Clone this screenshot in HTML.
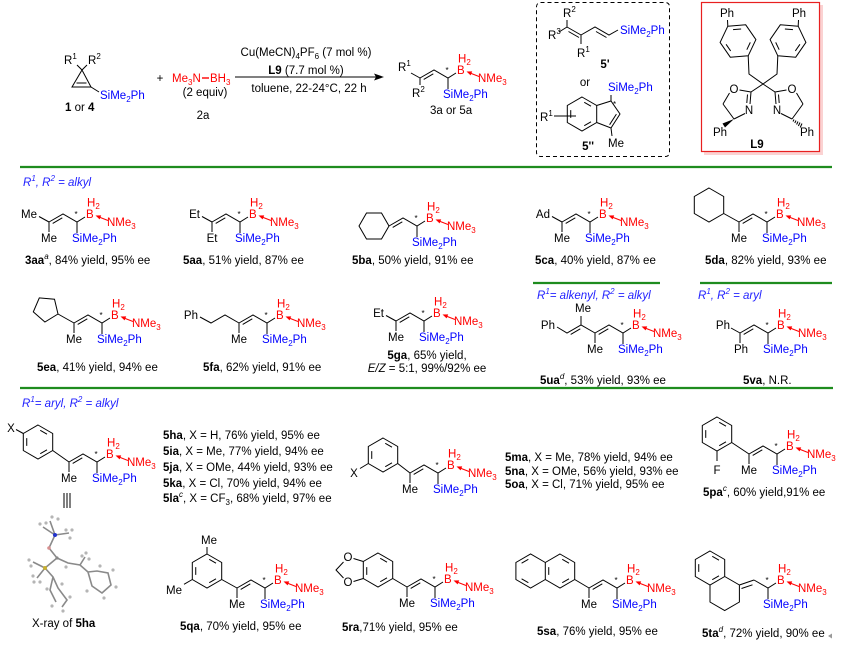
<!DOCTYPE html>
<html><head><meta charset="utf-8"><style>
html,body{margin:0;padding:0;background:#fff}
svg{display:block}
text{font-family:"Liberation Sans",Arial,sans-serif;font-size:11.5px;fill:#000}
.k{stroke:#000;stroke-width:1;fill:none}
.r{fill:#f00}
.bl{fill:#00f}
.s{font-size:8px}
.b{font-weight:bold}
.hd{fill:#2222ff;font-style:italic}
.g{stroke:#1e8c1e;stroke-width:2.2}
.x{stroke:#8a8a8a;stroke-width:1.6;fill:none}
</style></head><body>
<svg width="842" height="650" viewBox="0 0 842 650" xmlns="http://www.w3.org/2000/svg">
<rect width="842" height="650" fill="#fff"/>

<!-- ============ TOP SCHEME ============ -->
<!-- cyclopropene -->
<path class="k" d="M82,70L72,87L91,87Z M76.5,83L86.5,83 M82,70L77,65 M82,70L87,65 M91,87L99,92"/>
<text x="64" y="64">R<tspan font-size="8" dy="-5">1</tspan></text>
<text x="88" y="64">R<tspan font-size="8" dy="-5">2</tspan></text>
<text class="bl" x="100" y="99">SiMe<tspan font-size="8" dy="3">2</tspan><tspan dy="-3">Ph</tspan></text>
<text x="65" y="111"><tspan class="b">1</tspan> or <tspan class="b">4</tspan></text>
<text x="160" y="82" text-anchor="middle" font-size="10">+</text>
<text class="r" x="172" y="82">Me<tspan font-size="8" dy="3">3</tspan><tspan dy="-3">N</tspan></text>
<path d="M202,78L209,78" stroke="#f00" stroke-width="1.4"/>
<text class="r" x="210" y="82">BH<tspan font-size="8" dy="3">3</tspan></text>
<text x="205" y="96" text-anchor="middle">(2 equiv)</text>
<text x="203" y="119" text-anchor="middle">2a</text>
<!-- arrow -->
<path class="k" d="M235,77L378,77"/>
<path d="M384,77L374,73.5L376,77L374,80.5Z" fill="#000"/>
<text x="306" y="56" text-anchor="middle">Cu(MeCN)<tspan font-size="8" dy="3">4</tspan><tspan dy="-3">PF</tspan><tspan font-size="8" dy="3">6</tspan><tspan dy="-3"> (7 mol %)</tspan></text>
<text x="306" y="74" text-anchor="middle"><tspan class="b">L9</tspan> (7.7 mol %)</text>
<text x="309" y="92" text-anchor="middle">toluene, 22-24°C, 22 h</text>
<!-- product -->
<path class="k" d="M420,78L411,73 M420,78L420,85"/>
<text x="398" y="71">R<tspan font-size="8" dy="-5">1</tspan></text>
<text x="412" y="97">R<tspan font-size="8" dy="-5">2</tspan></text>
<g transform="translate(448,78)">
<path class="k" d="M-28,0L-14,-8L0,0L8,-5M0,0V11M-24.3,1.4L-14.7,-4.2"/>
<text class="s" x="-2.5" y="-5">*</text>
<text class="r" x="9" y="-4">B</text>
<text class="r" x="10" y="-15.5">H<tspan font-size="8" dy="2.5">2</tspan></text>
<path d="M31,-1.5L22,-5" stroke="#f00" stroke-width="1"/><path d="M18.5,-6.5L24.2,-6.6L22.6,-2.6Z" fill="#f00"/>
<text class="r" x="30" y="4">NMe<tspan font-size="8" dy="3">3</tspan></text>
<text class="bl" x="-5" y="20">SiMe<tspan font-size="8" dy="3">2</tspan><tspan dy="-3">Ph</tspan></text>
</g>
<text x="430" y="114">3a or 5a</text>

<!-- dashed box -->
<rect x="536.5" y="2.5" width="133" height="154" rx="4" fill="none" stroke="#000" stroke-width="1" stroke-dasharray="4,3"/>
<!-- 5' -->
<path class="k" d="M567,27L567,20 M567,27L559,32 M567,27L581,35 M568.5,31.5L579,37.5 M581,35L581,44 M581,35L595,27L609,35L618,30 M596,31.5L606.5,37.5"/>
<text x="563" y="17">R<tspan font-size="8" dy="-5">2</tspan></text>
<text x="548" y="39">R<tspan font-size="8" dy="-5">3</tspan></text>
<text x="577" y="57">R<tspan font-size="8" dy="-5">1</tspan></text>
<text class="bl" x="620" y="34">SiMe<tspan font-size="8" dy="3">2</tspan><tspan dy="-3">Ph</tspan></text>
<text x="605" y="68" text-anchor="middle" class="b">5'</text>
<text x="585" y="86" text-anchor="middle">or</text>
<!-- 5'' indene -->
<text class="bl" x="608" y="91">SiMe<tspan font-size="8" dy="3">2</tspan><tspan dy="-3">Ph</tspan></text>
<path class="k" d="M582,97L596.7,105.5L596.7,122.5L582,131L567.3,122.5L567.3,105.5Z M584.25,102.3L591,106.2 M591,121.8L584.25,125.7 M570.74,117.9L570.74,110.1 M596.7,105.5L611,101L620,114L611,128L596.7,122.5 M616.4,114.1L609.6,124.7 M611,101L611,95 M611,128L612,136 M554,116L576,116"/>
<text class="s" x="613" y="107">*</text>
<text x="540" y="121">R<tspan font-size="8" dy="-5">1</tspan></text>
<text x="616" y="147" text-anchor="middle">Me</text>
<text x="588" y="150" text-anchor="middle" class="b">5''</text>

<!-- L9 box -->
<rect x="704" y="5" width="119" height="150" fill="#fbd2d2"/>
<rect x="701.5" y="2.5" width="118" height="149" fill="#fff" stroke="#e82020" stroke-width="1.2"/>
<path class="k" d="M727.8,26.2L745.7,24.8L755.9,39.6L748.2,55.8L730.3,57.2L720.1,42.4Z M733.05,29.66L741.12,29.03 M750.3,42.38L746.81,49.69 M730.66,50.96L726.07,44.28 M727.8,26.2L727.5,20"/>
<path class="k" d="M798.2,26.2L780.3,24.8L770.1,39.6L777.8,55.8L795.7,57.2L805.9,42.4Z M792.95,29.66L784.88,29.03 M775.7,42.38L779.19,49.69 M795.34,50.96L799.93,44.28 M798.2,26.2L798.5,20"/>
<text x="727" y="17" text-anchor="middle">Ph</text>
<text x="799" y="17" text-anchor="middle">Ph</text>
<path class="k" d="M748.2,55.8L749,74L763,84L777,74L777.8,55.8 M763,84L751,92 M763,84L775,92"/>
<!-- left oxazoline -->
<path class="k" d="M751,92L739.5,90 M751,92L750,104 M747.5,94.5L746.8,103 M745,113.5L734,119 M734,119L723,104 M723,104L729.5,93"/>
<path d="M734,119L722.5,123.5L725,127.5Z" fill="#000"/>
<text x="734" y="93" text-anchor="middle">O</text>
<text x="749" y="114" text-anchor="middle">N</text>
<text x="720" y="136" text-anchor="middle">Ph</text>
<!-- right oxazoline -->
<path class="k" d="M775,92L786.5,90 M775,92L776,104 M778.5,94.5L779.2,103 M781,113.5L792,119 M792,119L803,104 M803,104L796.5,93"/>
<path class="k" d="M794,119.5L793,121.5 M796,120.5L794.8,123 M798,121.5L796.6,124.5 M800,122.5L798.4,126 M802,123.5L800.2,127.5"/>
<text x="792" y="93" text-anchor="middle">O</text>
<text x="777" y="114" text-anchor="middle">N</text>
<text x="807" y="136" text-anchor="middle">Ph</text>
<text x="757" y="148" text-anchor="middle" class="b">L9</text>

<!-- green lines -->
<path class="g" d="M20,167L832,167"/>
<path class="g" d="M533,283L660,283"/>
<path class="g" d="M700,283L832,283"/>
<path class="g" d="M20,388L833,388"/>

<!-- ============ ROW 1 ============ -->
<text class="hd" x="23" y="186">R<tspan font-size="8" dy="-5">1</tspan><tspan dy="5">, R</tspan><tspan font-size="8" dy="-5">2</tspan><tspan dy="5"> = alkyl</tspan></text>

<!-- 3aa -->
<path class="k" d="M49,222L39,216.5 M49,222L49,232"/>
<text x="37" y="218" text-anchor="end">Me</text>
<text x="49" y="242" text-anchor="middle">Me</text>
<g transform="translate(77,222)">
<path class="k" d="M-28,0L-14,-8L0,0L8,-5M0,0V11M-24.3,1.4L-14.7,-4.2"/>
<text class="s" x="-2.5" y="-5">*</text>
<text class="r" x="9" y="-4">B</text>
<text class="r" x="10" y="-15.5">H<tspan font-size="8" dy="2.5">2</tspan></text>
<path d="M31,-1.5L22,-5" stroke="#f00" stroke-width="1"/><path d="M18.5,-6.5L24.2,-6.6L22.6,-2.6Z" fill="#f00"/>
<text class="r" x="30" y="4">NMe<tspan font-size="8" dy="3">3</tspan></text>
<text class="bl" x="-5" y="20">SiMe<tspan font-size="8" dy="3">2</tspan><tspan dy="-3">Ph</tspan></text>
</g>
<text x="25" y="264"><tspan class="b">3aa</tspan><tspan font-size="8" dy="-5" font-style="italic">a</tspan><tspan dy="5">, 84% yield, 95% ee</tspan></text>

<!-- 5aa -->
<path class="k" d="M212,222L202,216.5 M212,222L212,232"/>
<text x="200" y="218" text-anchor="end">Et</text>
<text x="212" y="242" text-anchor="middle">Et</text>
<g transform="translate(240,222)">
<path class="k" d="M-28,0L-14,-8L0,0L8,-5M0,0V11M-24.3,1.4L-14.7,-4.2"/>
<text class="s" x="-2.5" y="-5">*</text>
<text class="r" x="9" y="-4">B</text>
<text class="r" x="10" y="-15.5">H<tspan font-size="8" dy="2.5">2</tspan></text>
<path d="M31,-1.5L22,-5" stroke="#f00" stroke-width="1"/><path d="M18.5,-6.5L24.2,-6.6L22.6,-2.6Z" fill="#f00"/>
<text class="r" x="30" y="4">NMe<tspan font-size="8" dy="3">3</tspan></text>
<text class="bl" x="-5" y="20">SiMe<tspan font-size="8" dy="3">2</tspan><tspan dy="-3">Ph</tspan></text>
</g>
<text x="183" y="264"><tspan class="b">5aa</tspan>, 51% yield, 87% ee</text>

<!-- 5ba -->
<path class="k" d="M389,226L381.5,239L366.5,239L359,226L366.5,213L381.5,213Z"/>
<g transform="translate(417,226)">
<path class="k" d="M-28,0L-14,-8L0,0L8,-5M0,0V11M-24.3,1.4L-14.7,-4.2"/>
<text class="s" x="-2.5" y="-5">*</text>
<text class="r" x="9" y="-4">B</text>
<text class="r" x="10" y="-15.5">H<tspan font-size="8" dy="2.5">2</tspan></text>
<path d="M31,-1.5L22,-5" stroke="#f00" stroke-width="1"/><path d="M18.5,-6.5L24.2,-6.6L22.6,-2.6Z" fill="#f00"/>
<text class="r" x="30" y="4">NMe<tspan font-size="8" dy="3">3</tspan></text>
<text class="bl" x="-5" y="20">SiMe<tspan font-size="8" dy="3">2</tspan><tspan dy="-3">Ph</tspan></text>
</g>
<text x="352" y="264"><tspan class="b">5ba</tspan>, 50% yield, 91% ee</text>

<!-- 5ca -->
<path class="k" d="M562,222L552,216.5 M562,222L562,232"/>
<text x="550" y="218" text-anchor="end">Ad</text>
<text x="562" y="242" text-anchor="middle">Me</text>
<g transform="translate(590,222)">
<path class="k" d="M-28,0L-14,-8L0,0L8,-5M0,0V11M-24.3,1.4L-14.7,-4.2"/>
<text class="s" x="-2.5" y="-5">*</text>
<text class="r" x="9" y="-4">B</text>
<text class="r" x="10" y="-15.5">H<tspan font-size="8" dy="2.5">2</tspan></text>
<path d="M31,-1.5L22,-5" stroke="#f00" stroke-width="1"/><path d="M18.5,-6.5L24.2,-6.6L22.6,-2.6Z" fill="#f00"/>
<text class="r" x="30" y="4">NMe<tspan font-size="8" dy="3">3</tspan></text>
<text class="bl" x="-5" y="20">SiMe<tspan font-size="8" dy="3">2</tspan><tspan dy="-3">Ph</tspan></text>
</g>
<text x="535" y="264"><tspan class="b">5ca</tspan>, 40% yield, 87% ee</text>

<!-- 5da -->
<path class="k" d="M709,188L723.7,196.5L723.7,213.5L709,222L694.3,213.5L694.3,196.5Z M723.7,213.5L739,222 M739,222L739,232"/>
<text x="739" y="242" text-anchor="middle">Me</text>
<g transform="translate(767,222)">
<path class="k" d="M-28,0L-14,-8L0,0L8,-5M0,0V11M-24.3,1.4L-14.7,-4.2"/>
<text class="s" x="-2.5" y="-5">*</text>
<text class="r" x="9" y="-4">B</text>
<text class="r" x="10" y="-15.5">H<tspan font-size="8" dy="2.5">2</tspan></text>
<path d="M31,-1.5L22,-5" stroke="#f00" stroke-width="1"/><path d="M18.5,-6.5L24.2,-6.6L22.6,-2.6Z" fill="#f00"/>
<text class="r" x="30" y="4">NMe<tspan font-size="8" dy="3">3</tspan></text>
<text class="bl" x="-5" y="20">SiMe<tspan font-size="8" dy="3">2</tspan><tspan dy="-3">Ph</tspan></text>
</g>
<text x="705" y="264"><tspan class="b">5da</tspan>, 82% yield, 93% ee</text>

<!-- ============ ROW 2 ============ -->
<!-- 5ea -->
<path class="k" d="M58,314L44.9,322L33.3,311.9L39.3,297.9L54.5,299.2Z M58,314L74,323 M74,323L74,333"/>
<text x="74" y="343" text-anchor="middle">Me</text>
<g transform="translate(102,323)">
<path class="k" d="M-28,0L-14,-8L0,0L8,-5M0,0V11M-24.3,1.4L-14.7,-4.2"/>
<text class="s" x="-2.5" y="-5">*</text>
<text class="r" x="9" y="-4">B</text>
<text class="r" x="10" y="-15.5">H<tspan font-size="8" dy="2.5">2</tspan></text>
<path d="M31,-1.5L22,-5" stroke="#f00" stroke-width="1"/><path d="M18.5,-6.5L24.2,-6.6L22.6,-2.6Z" fill="#f00"/>
<text class="r" x="30" y="4">NMe<tspan font-size="8" dy="3">3</tspan></text>
<text class="bl" x="-5" y="20">SiMe<tspan font-size="8" dy="3">2</tspan><tspan dy="-3">Ph</tspan></text>
</g>
<text x="37" y="371"><tspan class="b">5ea</tspan>, 41% yield, 94% ee</text>

<!-- 5fa -->
<path class="k" d="M239,323L225,315L211,323L200,317 M239,323L239,333"/>
<text x="198" y="319" text-anchor="end">Ph</text>
<text x="239" y="343" text-anchor="middle">Me</text>
<g transform="translate(267,323)">
<path class="k" d="M-28,0L-14,-8L0,0L8,-5M0,0V11M-24.3,1.4L-14.7,-4.2"/>
<text class="s" x="-2.5" y="-5">*</text>
<text class="r" x="9" y="-4">B</text>
<text class="r" x="10" y="-15.5">H<tspan font-size="8" dy="2.5">2</tspan></text>
<path d="M31,-1.5L22,-5" stroke="#f00" stroke-width="1"/><path d="M18.5,-6.5L24.2,-6.6L22.6,-2.6Z" fill="#f00"/>
<text class="r" x="30" y="4">NMe<tspan font-size="8" dy="3">3</tspan></text>
<text class="bl" x="-5" y="20">SiMe<tspan font-size="8" dy="3">2</tspan><tspan dy="-3">Ph</tspan></text>
</g>
<text x="203" y="371"><tspan class="b">5fa</tspan>, 62% yield, 91% ee</text>

<!-- 5ga -->
<path class="k" d="M396,321L386,315.5 M396,321L396,331"/>
<text x="384" y="317" text-anchor="end">Et</text>
<text x="396" y="341" text-anchor="middle">Me</text>
<g transform="translate(424,321)">
<path class="k" d="M-28,0L-14,-8L0,0L8,-5M0,0V11M-24.3,1.4L-14.7,-4.2"/>
<text class="s" x="-2.5" y="-5">*</text>
<text class="r" x="9" y="-4">B</text>
<text class="r" x="10" y="-15.5">H<tspan font-size="8" dy="2.5">2</tspan></text>
<path d="M31,-1.5L22,-5" stroke="#f00" stroke-width="1"/><path d="M18.5,-6.5L24.2,-6.6L22.6,-2.6Z" fill="#f00"/>
<text class="r" x="30" y="4">NMe<tspan font-size="8" dy="3">3</tspan></text>
<text class="bl" x="-5" y="20">SiMe<tspan font-size="8" dy="3">2</tspan><tspan dy="-3">Ph</tspan></text>
</g>
<text x="427" y="359" text-anchor="middle"><tspan class="b">5ga</tspan>, 65% yield,</text>
<text x="427" y="372" text-anchor="middle"><tspan font-style="italic">E/Z</tspan> = 5:1, 99%/92% ee</text>

<!-- 5ua -->
<text class="hd" x="537" y="299">R<tspan font-size="8" dy="-5">1</tspan><tspan dy="5">= alkenyl, R</tspan><tspan font-size="8" dy="-5">2</tspan><tspan dy="5"> = alkyl</tspan></text>
<path class="k" d="M595,333L581,325L567,333L557,327 M570.7,334.4L580.3,328.8 M581,325L581,316 M595,333L595,343"/>
<text x="555" y="329" text-anchor="end">Ph</text>
<text x="583" y="312" text-anchor="middle">Me</text>
<text x="595" y="353" text-anchor="middle">Me</text>
<g transform="translate(623,333)">
<path class="k" d="M-28,0L-14,-8L0,0L8,-5M0,0V11M-24.3,1.4L-14.7,-4.2"/>
<text class="s" x="-2.5" y="-5">*</text>
<text class="r" x="9" y="-4">B</text>
<text class="r" x="10" y="-15.5">H<tspan font-size="8" dy="2.5">2</tspan></text>
<path d="M31,-1.5L22,-5" stroke="#f00" stroke-width="1"/><path d="M18.5,-6.5L24.2,-6.6L22.6,-2.6Z" fill="#f00"/>
<text class="r" x="30" y="4">NMe<tspan font-size="8" dy="3">3</tspan></text>
<text class="bl" x="-5" y="20">SiMe<tspan font-size="8" dy="3">2</tspan><tspan dy="-3">Ph</tspan></text>
</g>
<text x="540" y="384"><tspan class="b">5ua</tspan><tspan font-size="8" dy="-5" font-style="italic">d</tspan><tspan dy="5">, 53% yield, 93% ee</tspan></text>

<!-- 5va -->
<text class="hd" x="698" y="299">R<tspan font-size="8" dy="-5">1</tspan><tspan dy="5">, R</tspan><tspan font-size="8" dy="-5">2</tspan><tspan dy="5"> = aryl</tspan></text>
<path class="k" d="M740,333L731,328 M740,333L740,343"/>
<text x="730" y="329" text-anchor="end">Ph</text>
<text x="741" y="353" text-anchor="middle">Ph</text>
<g transform="translate(768,333)">
<path class="k" d="M-28,0L-14,-8L0,0L8,-5M0,0V11M-24.3,1.4L-14.7,-4.2"/>
<text class="s" x="-2.5" y="-5">*</text>
<text class="r" x="9" y="-4">B</text>
<text class="r" x="10" y="-15.5">H<tspan font-size="8" dy="2.5">2</tspan></text>
<path d="M31,-1.5L22,-5" stroke="#f00" stroke-width="1"/><path d="M18.5,-6.5L24.2,-6.6L22.6,-2.6Z" fill="#f00"/>
<text class="r" x="30" y="4">NMe<tspan font-size="8" dy="3">3</tspan></text>
<text class="bl" x="-5" y="20">SiMe<tspan font-size="8" dy="3">2</tspan><tspan dy="-3">Ph</tspan></text>
</g>
<text x="743" y="384"><tspan class="b">5va</tspan>, N.R.</text>

<!-- ============ ROW 3 ============ -->
<text class="hd" x="22" y="407">R<tspan font-size="8" dy="-5">1</tspan><tspan dy="5">= aryl, R</tspan><tspan font-size="8" dy="-5">2</tspan><tspan dy="5"> = alkyl</tspan></text>

<!-- 5ha -->
<path class="k" d="M38,425L52.7,433.5L52.7,450.5L38,459L23.3,450.5L23.3,433.5Z M40.25,430.3L47,434.2 M47,449.8L40.25,453.7 M26.74,445.9L26.74,438.1 M52.7,450.5L69,462 M23.3,433.5L16,429.5 M69,462L69,472"/>
<text x="11" y="432" text-anchor="middle">X</text>
<text x="69" y="482" text-anchor="middle">Me</text>
<g transform="translate(97,462)">
<path class="k" d="M-28,0L-14,-8L0,0L8,-5M0,0V11M-24.3,1.4L-14.7,-4.2"/>
<text class="s" x="-2.5" y="-5">*</text>
<text class="r" x="9" y="-4">B</text>
<text class="r" x="10" y="-15.5">H<tspan font-size="8" dy="2.5">2</tspan></text>
<path d="M31,-1.5L22,-5" stroke="#f00" stroke-width="1"/><path d="M18.5,-6.5L24.2,-6.6L22.6,-2.6Z" fill="#f00"/>
<text class="r" x="30" y="4">NMe<tspan font-size="8" dy="3">3</tspan></text>
<text class="bl" x="-5" y="20">SiMe<tspan font-size="8" dy="3">2</tspan><tspan dy="-3">Ph</tspan></text>
</g>
<path class="k" d="M64,493L64,508 M67,493L67,508 M70,493L70,508"/>
<text x="163" y="439"><tspan class="b">5ha</tspan>, X = H, 76% yield, 95% ee</text>
<text x="163" y="455"><tspan class="b">5ia</tspan>, X = Me, 77% yield, 94% ee</text>
<text x="163" y="471"><tspan class="b">5ja</tspan>, X = OMe, 44% yield, 93% ee</text>
<text x="163" y="487"><tspan class="b">5ka</tspan>, X = Cl, 70% yield, 94% ee</text>
<text x="163" y="502"><tspan class="b">5la</tspan><tspan font-size="8" dy="-5" font-style="italic">c</tspan><tspan dy="5">, X = CF</tspan><tspan font-size="8" dy="3">3</tspan><tspan dy="-3">, 68% yield, 97% ee</tspan></text>

<!-- 5ma -->
<path class="k" d="M383,438L397.7,446.5L397.7,463.5L383,472L368.3,463.5L368.3,446.5Z M385.25,443.3L392,447.2 M392,462.8L385.25,466.7 M371.74,458.9L371.74,451.1 M397.7,463.5L410,473 M368.3,463.5L360,468.5 M410,473L410,483"/>
<text x="354" y="477" text-anchor="middle">X</text>
<text x="410" y="493" text-anchor="middle">Me</text>
<g transform="translate(438,473)">
<path class="k" d="M-28,0L-14,-8L0,0L8,-5M0,0V11M-24.3,1.4L-14.7,-4.2"/>
<text class="s" x="-2.5" y="-5">*</text>
<text class="r" x="9" y="-4">B</text>
<text class="r" x="10" y="-15.5">H<tspan font-size="8" dy="2.5">2</tspan></text>
<path d="M31,-1.5L22,-5" stroke="#f00" stroke-width="1"/><path d="M18.5,-6.5L24.2,-6.6L22.6,-2.6Z" fill="#f00"/>
<text class="r" x="30" y="4">NMe<tspan font-size="8" dy="3">3</tspan></text>
<text class="bl" x="-5" y="20">SiMe<tspan font-size="8" dy="3">2</tspan><tspan dy="-3">Ph</tspan></text>
</g>
<text x="505" y="461"><tspan class="b">5ma</tspan>, X = Me, 78% yield, 94% ee</text>
<text x="505" y="475"><tspan class="b">5na</tspan>, X = OMe, 56% yield, 93% ee</text>
<text x="505" y="488"><tspan class="b">5oa</tspan>, X = Cl, 71% yield, 95% ee</text>

<!-- 5pa -->
<path class="k" d="M717,417L731.7,425.5L731.7,442.5L717,451L702.3,442.5L702.3,425.5Z M719.25,422.3L726,426.2 M726,441.8L719.25,445.7 M705.74,437.9L705.74,430.1 M731.7,442.5L749,454 M717,451L717,461 M749,454L749,464"/>
<text x="717" y="474" text-anchor="middle">F</text>
<text x="749" y="474" text-anchor="middle">Me</text>
<g transform="translate(777,454)">
<path class="k" d="M-28,0L-14,-8L0,0L8,-5M0,0V11M-24.3,1.4L-14.7,-4.2"/>
<text class="s" x="-2.5" y="-5">*</text>
<text class="r" x="9" y="-4">B</text>
<text class="r" x="10" y="-15.5">H<tspan font-size="8" dy="2.5">2</tspan></text>
<path d="M31,-1.5L22,-5" stroke="#f00" stroke-width="1"/><path d="M18.5,-6.5L24.2,-6.6L22.6,-2.6Z" fill="#f00"/>
<text class="r" x="30" y="4">NMe<tspan font-size="8" dy="3">3</tspan></text>
<text class="bl" x="-5" y="20">SiMe<tspan font-size="8" dy="3">2</tspan><tspan dy="-3">Ph</tspan></text>
</g>
<text x="703" y="496"><tspan class="b">5pa</tspan><tspan font-size="8" dy="-5" font-style="italic">c</tspan><tspan dy="5">, 60% yield,91% ee</tspan></text>

<!-- ============ ROW 4 ============ -->
<!-- X-ray sketch -->
<g>
<path class="x" d="M55,535L49,548L57,558L45,568 M55,535L43,527 M55,535L50,521 M55,535L69,533 M57,558L68,563L80,565L88,572 M80,565L85,557 M45,568L33,562 M45,568L37,578 M45,568L53,577L58,588L67,600L62,607 M53,577L50,590L56,602 M88,572L97,571L108,573L111,585L102,593L92,586L88,572"/>
<g fill="#b5b5b5">
<circle cx="40" cy="524" r="1.6"/><circle cx="46" cy="523" r="1.6"/><circle cx="52" cy="517" r="1.6"/><circle cx="58" cy="519" r="1.6"/><circle cx="72" cy="530" r="1.6"/><circle cx="70" cy="538" r="1.6"/><circle cx="66" cy="530" r="1.6"/>
<circle cx="29" cy="560" r="1.6"/><circle cx="31" cy="566" r="1.6"/><circle cx="34" cy="582" r="1.6"/><circle cx="40" cy="582" r="1.6"/><circle cx="33" cy="576" r="1.6"/>
<circle cx="86" cy="553" r="1.6"/><circle cx="82" cy="556" r="1.6"/><circle cx="89" cy="559" r="1.6"/><circle cx="66" cy="567" r="1.6"/>
<circle cx="100" cy="566" r="1.6"/><circle cx="113" cy="570" r="1.6"/><circle cx="116" cy="587" r="1.6"/><circle cx="104" cy="598" r="1.6"/><circle cx="87" cy="591" r="1.6"/>
<circle cx="70" cy="597" r="1.6"/><circle cx="63" cy="611" r="1.6"/><circle cx="52" cy="606" r="1.6"/><circle cx="47" cy="589" r="1.6"/><circle cx="62" cy="584" r="1.6"/>
</g>
<circle cx="55" cy="535" r="2" fill="#2233cc"/>
<circle cx="49" cy="548" r="1.8" fill="#d89090"/>
<circle cx="45" cy="568" r="2" fill="#c8b030"/>
<circle cx="57" cy="558" r="1.6" fill="#888"/>
</g>
<text x="32" y="627">X-ray of <tspan class="b">5ha</tspan></text>

<!-- 5qa -->
<path class="k" d="M207,554L221.7,562.5L221.7,579.5L207,588L192.3,579.5L192.3,562.5Z M209.25,559.3L216,563.2 M216,578.8L209.25,582.7 M195.74,574.9L195.74,567.1 M221.7,579.5L237,588 M207,554L207,547 M192.3,579.5L184,584.3 M237,588L237,598"/>
<text x="209" y="544" text-anchor="middle">Me</text>
<text x="182" y="594" text-anchor="end">Me</text>
<text x="237" y="608" text-anchor="middle">Me</text>
<g transform="translate(265,588)">
<path class="k" d="M-28,0L-14,-8L0,0L8,-5M0,0V11M-24.3,1.4L-14.7,-4.2"/>
<text class="s" x="-2.5" y="-5">*</text>
<text class="r" x="9" y="-4">B</text>
<text class="r" x="10" y="-15.5">H<tspan font-size="8" dy="2.5">2</tspan></text>
<path d="M31,-1.5L22,-5" stroke="#f00" stroke-width="1"/><path d="M18.5,-6.5L24.2,-6.6L22.6,-2.6Z" fill="#f00"/>
<text class="r" x="30" y="4">NMe<tspan font-size="8" dy="3">3</tspan></text>
<text class="bl" x="-5" y="20">SiMe<tspan font-size="8" dy="3">2</tspan><tspan dy="-3">Ph</tspan></text>
</g>
<text x="180" y="630"><tspan class="b">5qa</tspan>, 70% yield, 95% ee</text>

<!-- 5ra -->
<path class="k" d="M378,553L392.7,561.5L392.7,578.5L378,587L363.3,578.5L363.3,561.5Z M380.25,558.3L387,562.2 M387,577.8L380.25,581.7 M366.74,574.9L366.74,567.1 M392.7,578.5L407,587 M363.3,561.5L353.5,558.5 M363.3,578.5L353.5,581.5 M343.5,562L336,570L343.5,578 M407,587L407,597"/>
<text x="348" y="561" text-anchor="middle">O</text>
<text x="348" y="586" text-anchor="middle">O</text>
<text x="407" y="607" text-anchor="middle">Me</text>
<g transform="translate(435,587)">
<path class="k" d="M-28,0L-14,-8L0,0L8,-5M0,0V11M-24.3,1.4L-14.7,-4.2"/>
<text class="s" x="-2.5" y="-5">*</text>
<text class="r" x="9" y="-4">B</text>
<text class="r" x="10" y="-15.5">H<tspan font-size="8" dy="2.5">2</tspan></text>
<path d="M31,-1.5L22,-5" stroke="#f00" stroke-width="1"/><path d="M18.5,-6.5L24.2,-6.6L22.6,-2.6Z" fill="#f00"/>
<text class="r" x="30" y="4">NMe<tspan font-size="8" dy="3">3</tspan></text>
<text class="bl" x="-5" y="20">SiMe<tspan font-size="8" dy="3">2</tspan><tspan dy="-3">Ph</tspan></text>
</g>
<text x="342" y="631"><tspan class="b">5ra</tspan>,71% yield, 95% ee</text>

<!-- 5sa -->
<path class="k" d="M560,554L574.7,562.5L574.7,579.5L560,588L545.3,579.5L545.3,562.5Z M562.25,559.3L569,563.2 M569,578.8L562.25,582.7 M548.74,574.9L548.74,567.1 M545.3,562.5L530.6,554L515.9,562.5L515.9,579.5L530.6,588L545.3,579.5 M521.6,563.2L528.35,559.3 M528.35,582.7L521.6,578.8 M574.7,579.5L589,588 M589,588L589,598"/>
<text x="589" y="608" text-anchor="middle">Me</text>
<g transform="translate(617,588)">
<path class="k" d="M-28,0L-14,-8L0,0L8,-5M0,0V11M-24.3,1.4L-14.7,-4.2"/>
<text class="s" x="-2.5" y="-5">*</text>
<text class="r" x="9" y="-4">B</text>
<text class="r" x="10" y="-15.5">H<tspan font-size="8" dy="2.5">2</tspan></text>
<path d="M31,-1.5L22,-5" stroke="#f00" stroke-width="1"/><path d="M18.5,-6.5L24.2,-6.6L22.6,-2.6Z" fill="#f00"/>
<text class="r" x="30" y="4">NMe<tspan font-size="8" dy="3">3</tspan></text>
<text class="bl" x="-5" y="20">SiMe<tspan font-size="8" dy="3">2</tspan><tspan dy="-3">Ph</tspan></text>
</g>
<text x="537" y="635"><tspan class="b">5sa</tspan>, 76% yield, 95% ee</text>

<!-- 5ta -->
<path class="k" d="M710,551L724.7,559.5L724.7,576.5L710,585L695.3,576.5L695.3,559.5Z M712.25,556.3L719,560.2 M719,575.8L712.25,579.7 M698.74,571.9L698.74,564.1 M724.7,576.5L739.4,585L739.4,602L724.7,610.5L710,602L710,585 M739.4,585L754,580 M741.5,588.5L752.5,584.8"/>
<g transform="translate(768,588)">
<path class="k" d="M-14,-8L0,0L8,-5M0,0V11"/>
<text class="s" x="-2.5" y="-5">*</text>
<text class="r" x="9" y="-4">B</text>
<text class="r" x="10" y="-15.5">H<tspan font-size="8" dy="2.5">2</tspan></text>
<path d="M31,-1.5L22,-5" stroke="#f00" stroke-width="1"/><path d="M18.5,-6.5L24.2,-6.6L22.6,-2.6Z" fill="#f00"/>
<text class="r" x="30" y="4">NMe<tspan font-size="8" dy="3">3</tspan></text>
<text class="bl" x="-5" y="20">SiMe<tspan font-size="8" dy="3">2</tspan><tspan dy="-3">Ph</tspan></text>
</g>
<text x="702" y="637"><tspan class="b">5ta</tspan><tspan font-size="8" dy="-5" font-style="italic">d</tspan><tspan dy="5">, 72% yield, 90% ee</tspan></text>

<path d="M828,636L832,633.5L832,638.5Z" fill="#999"/>
</svg>
</body></html>
